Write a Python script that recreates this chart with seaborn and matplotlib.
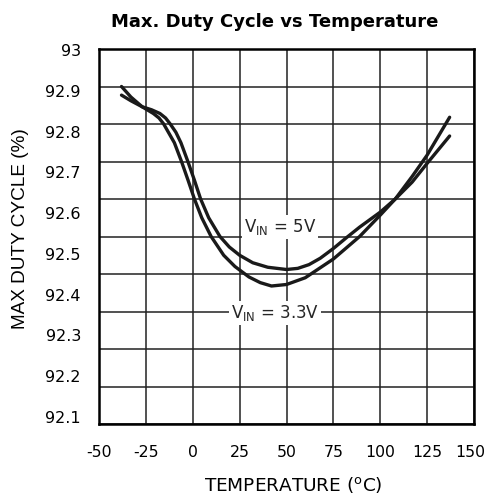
import matplotlib
matplotlib.use("Agg")
import matplotlib.pyplot as plt
import matplotlib.transforms as mtransforms
import seaborn as sns
import pandas as pd

# ---- data ----
temp_33 = [-38, -33, -27, -21, -18, -15.5, -9.8, -6.0, -2.5, 0.9, 4.8, 9.8, 16.5, 22.5, 30, 36, 42, 50, 60, 75, 89, 100, 108, 117, 125, 137]
duty_33 = [92.90, 92.872, 92.846, 92.828, 92.816, 92.80, 92.75, 92.70, 92.65, 92.60, 92.55, 92.50, 92.45, 92.42, 92.392, 92.377, 92.368, 92.372, 92.39, 92.44, 92.50, 92.557, 92.60, 92.66, 92.717, 92.818]

temp_5 = [-38, -33, -27, -22, -17.5, -14.5, -12.0, -9.0, -6.3, -2.6, 0.9, 4.2, 8.5, 14.5, 19.5, 25, 32, 40, 50, 56, 62, 68, 75, 82, 89, 100, 108, 117, 125, 137]
duty_5 = [92.877, 92.862, 92.846, 92.838, 92.828, 92.816, 92.80, 92.778, 92.75, 92.70, 92.65, 92.60, 92.55, 92.50, 92.472, 92.45, 92.43, 92.418, 92.412, 92.415, 92.425, 92.442, 92.468, 92.497, 92.525, 92.565, 92.60, 92.645, 92.695, 92.768]

x_ticks = [-50, -25, 0, 25, 50, 75, 100, 125, 150]
y_grid = [92.0, 92.1, 92.2, 92.3, 92.4, 92.5, 92.6, 92.7, 92.8, 92.9, 93.0]
y_tick_values = [93.0, 92.9, 92.8, 92.7, 92.6, 92.5, 92.4, 92.3, 92.2, 92.1]
y_tick_labels = ["93", "92.9", "92.8", "92.7", "92.6", "92.5", "92.4", "92.3", "92.2", "92.1"]

title = "Max. Duty Cycle vs Temperature"
xlabel = r"TEMPERATURE ($^\mathregular{o}$C)"
ylabel = "MAX DUTY CYCLE (%)"
label_5 = r"V$_\mathregular{IN}$ = 5V"
label_33 = r"V$_\mathregular{IN}$ = 3.3V"

sns.set_theme(style="white")
plt.rcParams["font.family"] = ["DejaVu Sans"]
plt.rcParams["axes.unicode_minus"] = False

W, H = 487, 496
fig = plt.figure(figsize=(W / 100, H / 100), dpi=100)
ax = fig.add_axes([99 / W, 1 - 424 / H, (474 - 99) / W, (424 - 49) / H])

df33 = pd.DataFrame({"T": temp_33, "D": duty_33})
df5 = pd.DataFrame({"T": temp_5, "D": duty_5})
sns.lineplot(data=df33, x="T", y="D", ax=ax, color="#1a1a1a", linewidth=2.4, zorder=3)
sns.lineplot(data=df5, x="T", y="D", ax=ax, color="#1a1a1a", linewidth=2.4, zorder=3)

ax.set_xlim(-50, 150)
ax.set_ylim(92.0, 93.0)
ax.set_xticks(x_ticks)
ax.set_xticklabels([str(v) for v in x_ticks])
ax.set_yticks(y_grid)
ax.set_yticklabels([])
ax.grid(True, color="#222222", linewidth=1.1)
ax.tick_params(axis="both", length=0)
ax.tick_params(axis="x", labelsize=11.3, pad=15, colors="black")
# the last label is nudged left to stay inside the picture, as in the reference
last = ax.get_xticklabels()[-1]
last.set_transform(last.get_transform() + mtransforms.ScaledTranslation(-4 / 100, 0, fig.dpi_scale_trans))
ax.set_xlabel(xlabel, fontsize=13.3, color="black")
ax.xaxis.set_label_coords(0.517, -0.135)
ax.set_ylabel("")
for s in ax.spines.values():
    s.set_color("black")
    s.set_linewidth(1.8)
    s.set_zorder(4)

# y tick labels sit on their own scale, as drawn in the reference
ax2 = ax.twinx()
ax2.yaxis.tick_left()
ax2.yaxis.set_label_position("left")
ax2.set_ylim(93.0 - (424 - 50) / 407.8, 93.0 + 1 / 407.8)
ax2.set_yticks(y_tick_values)
ax2.set_yticklabels(y_tick_labels)
ax2.tick_params(axis="y", length=0, labelsize=11.5, pad=13, colors="black")
ax2.grid(False)
for s in ax2.spines.values():
    s.set_visible(False)
ax2.set_ylabel(ylabel, fontsize=13.7, color="black", family=["Liberation Sans", "DejaVu Sans"])
ax2.yaxis.set_label_coords(-0.187, 0.52)

ax.text(46.5, 92.525, label_5, fontsize=12, ha="center", va="center", zorder=5,
        bbox=dict(boxstyle="square,pad=0.12", fc="white", ec="none"))
ax.text(43.9, 92.296, label_33, fontsize=12, ha="center", va="center", zorder=5,
        bbox=dict(boxstyle="square,pad=0.12", fc="white", ec="none"))

ax.set_title(title, fontsize=13, fontweight="bold", pad=16, color="black", x=0.469)

fig.savefig("out.png", dpi=100, facecolor="white")
